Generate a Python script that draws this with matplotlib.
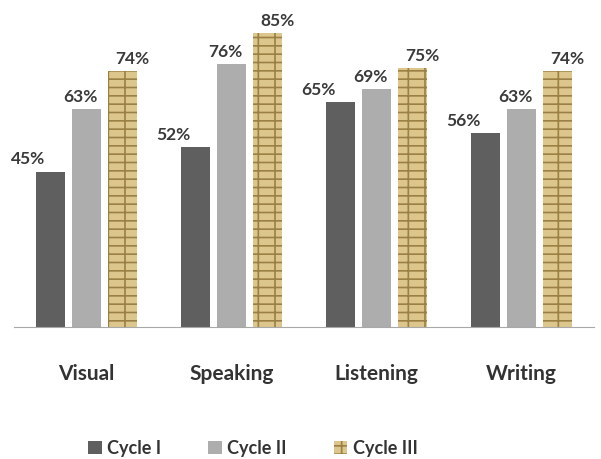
import matplotlib.pyplot as plt
import numpy as np

plt.rcParams['font.family'] = ['Lato', 'DejaVu Sans']
plt.rcParams['hatch.linewidth'] = 1.2

habilidades = ['Visual', 'Speaking', 'Listening', 'Writing']
ciclo_1 = [45, 52, 65, 56]
ciclo_2 = [63, 76, 69, 63]
ciclo_3 = [74, 85, 75, 74]
series = ['Cycle I', 'Cycle II', 'Cycle III']

fig = plt.figure(figsize=(6.01, 4.6), dpi=100)
ax = fig.add_axes([14/601, 132/460, 580/601, 311/460])

x = np.arange(len(habilidades))
width = 0.195
step = 0.248

b1 = ax.bar(x - step, ciclo_1, width, color='#5f5f5f', label=series[0])
b2 = ax.bar(x, ciclo_2, width, color='#adadad', label=series[1])
b3 = ax.bar(x + step, ciclo_3, width, color='#dcc68c', edgecolor='#9a8045',
            hatch='-+', linewidth=0, label=series[2])

def rotula(rects, dx):
    for rect in rects:
        h = rect.get_height()
        ax.annotate(f'{h:.0f}%', xy=(rect.get_x() + rect.get_width()/2, h),
                    xytext=(dx, 5), textcoords='offset pixels',
                    ha='center', va='bottom', fontsize=12.5,
                    fontweight='bold', color='#3a3a3a')

rotula(b1, -22)
rotula(b2, -6)
rotula(b3, 10)

ax.set_xlim(-0.5, 3.5)
ax.set_ylim(0, 90)
ax.set_yticks([])
ax.set_xticks(x, habilidades, fontsize=15, fontweight='bold', color='#333333')
ax.tick_params(axis='x', length=0, pad=26)
for s in ['top', 'left', 'right']:
    ax.spines[s].set_visible(False)
ax.spines['bottom'].set_color('#a8a8a8')

fig.legend(handles=[b1, b2, b3], loc='center', bbox_to_anchor=(253/601, 1 - 449/460),
           ncol=3, frameon=False, handlelength=0.75, handleheight=0.75,
           handletextpad=0.3, columnspacing=2.6,
           prop={'weight': 'bold', 'size': 13})
for t in fig.legends[0].get_texts():
    t.set_color('#333333')

fig.savefig('out.png', dpi=100)
